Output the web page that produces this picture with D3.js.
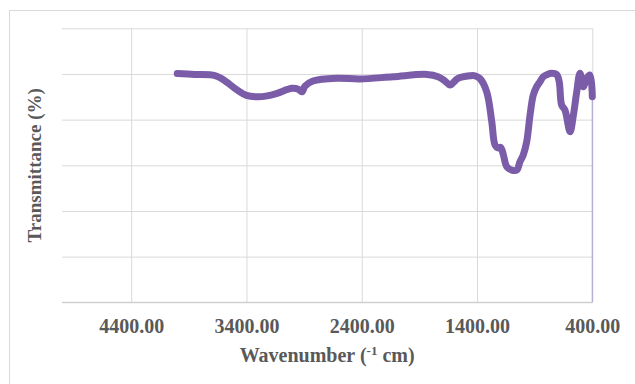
<!DOCTYPE html>
<html>
<head>
<meta charset="utf-8">
<script src="https://cdn.jsdelivr.net/npm/d3@7/dist/d3.min.js"></script>
<style>
  html, body { margin: 0; padding: 0; background: #fff; }
  svg { display: block; }
  text { font-family: "Liberation Serif", "Times New Roman", serif; font-weight: bold; fill: #595959; }
</style>
</head>
<body>
<svg id="chart" width="635" height="384"></svg>
<script>
// FTIR spectrum: wavenumber (cm^-1) vs transmittance (%)
const wavenumbers = [4000, 3850, 3673, 3600, 3482, 3400, 3308, 3220, 3135, 3005, 2950, 2918, 2892, 2823, 2615, 2415, 2129, 1834, 1738, 1680, 1634, 1565, 1460, 1417, 1375, 1316, 1272, 1244, 1218, 1195, 1171, 1142, 1099, 1056, 1027, 999, 969, 940, 912, 883, 854, 825, 790, 753, 710, 687, 666, 637, 593, 564, 535, 507, 478, 449, 420, 400];
const transmittance = [100.2, 99.8, 99.3, 97.5, 93.0, 90.6, 90.0, 90.4, 91.5, 93.7, 93.3, 92.2, 94.7, 96.9, 98.1, 97.8, 98.8, 99.8, 98.8, 97.0, 95.2, 98.1, 99.2, 99.2, 98.0, 92.2, 79.1, 68.9, 67.6, 67.9, 64.5, 59.4, 57.9, 57.9, 61.6, 64.5, 70.3, 82.0, 90.8, 94.4, 96.6, 98.8, 99.8, 100.3, 99.8, 96.6, 86.4, 84.2, 74.7, 82.0, 92.2, 100.3, 94.4, 98.1, 99.5, 90.0];
const xTicks = [4400, 3400, 2400, 1400, 400];
const yGrid = [0, 20, 40, 60, 80, 100, 120];

const svg = d3.select("#chart");

// chart frame
svg.append("rect")
  .attr("x", 9.5).attr("y", 10.5)
  .attr("width", 640).attr("height", 400)
  .attr("fill", "#fff").attr("stroke", "#d9d9d9").attr("stroke-width", 1);

const plotLeft = 62, plotRight = 592.3, plotTop = 28.3, plotBottom = 302.3;

const x = d3.scaleLinear().domain([5000, 400]).range([plotLeft, plotRight]);
const y = d3.scaleLinear().domain([0, 120]).range([plotBottom, plotTop]);

// horizontal gridlines
const yAxis = svg.append("g")
  .attr("transform", `translate(${plotLeft},0)`)
  .call(d3.axisLeft(y).tickValues(yGrid).tickSize(-(plotRight - plotLeft)).tickFormat(""));
yAxis.select(".domain").remove();
yAxis.selectAll(".tick line").attr("stroke", "#d9d9d9").attr("stroke-width", 1);

// vertical gridlines
const xGrid = svg.append("g")
  .attr("transform", `translate(0,${plotBottom})`)
  .call(d3.axisBottom(x).tickValues(xTicks).tickSize(-(plotBottom - plotTop)).tickFormat(""));
xGrid.select(".domain").remove();
xGrid.selectAll(".tick line").attr("stroke", "#d9d9d9").attr("stroke-width", 1);

// baseline
svg.append("line")
  .attr("x1", plotLeft).attr("x2", plotRight)
  .attr("y1", plotBottom).attr("y2", plotBottom)
  .attr("stroke", "#c8c8c8").attr("stroke-width", 1);

// x tick labels
const xAxis = svg.append("g")
  .attr("transform", `translate(0,${plotBottom})`)
  .call(d3.axisBottom(x).tickValues(xTicks).tickSize(0).tickFormat(d3.format(".2f")));
xAxis.select(".domain").remove();
xAxis.selectAll(".tick text")
  .attr("y", 31).attr("dy", 0)
  .style("font-size", "20px")
  .style("font-family", "'Liberation Serif', serif")
  .style("font-weight", "bold")
  .attr("fill", "#595959");

// spectrum line
const data = wavenumbers.map((w, i) => ({ w, t: transmittance[i] }));
const line = d3.line()
  .x(d => x(d.w))
  .y(d => y(d.t))
  .curve(d3.curveCatmullRom.alpha(0.5));

// thin drop at the end of the scan
const last = data[data.length - 1];
svg.append("line")
  .attr("x1", x(last.w)).attr("x2", x(last.w))
  .attr("y1", y(last.t)).attr("y2", plotBottom)
  .attr("stroke", "#b3a6d4").attr("stroke-width", 1.2);

svg.append("path")
  .datum(data)
  .attr("d", line)
  .attr("fill", "none")
  .attr("stroke", "#7a5ca8")
  .attr("stroke-width", 7)
  .attr("stroke-linecap", "round")
  .attr("stroke-linejoin", "round");

// axis titles
const xt = svg.append("text")
  .attr("x", (plotLeft + plotRight) / 2).attr("y", 362)
  .attr("text-anchor", "middle")
  .style("font-size", "20px");
xt.append("tspan").text("Wavenumber (");
xt.append("tspan").text("-1").attr("dy", -7).style("font-size", "13px");
xt.append("tspan").text(" cm)").attr("dy", 7);

svg.append("text")
  .attr("transform", `translate(41,${(plotTop + plotBottom) / 2}) rotate(-90)`)
  .attr("text-anchor", "middle")
  .style("font-size", "19px")
  .text("Transmittance (%)");
</script>
</body>
</html>
